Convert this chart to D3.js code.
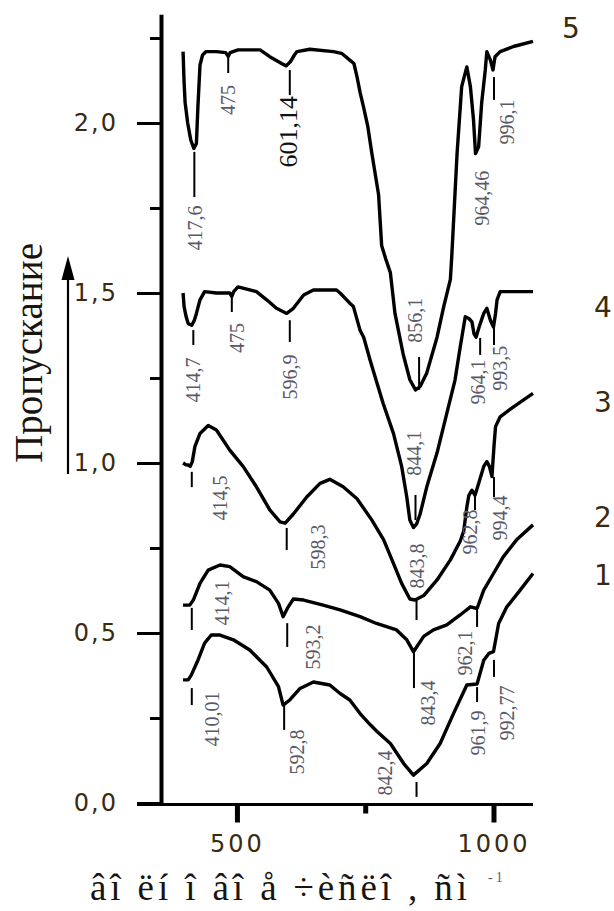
<!DOCTYPE html>
<html><head><meta charset="utf-8">
<script src="https://cdn.jsdelivr.net/npm/d3@7"></script>
<style>body{margin:0;background:#fff}svg{display:block}</style>
</head><body>
<svg id="chart" width="614" height="911"></svg>
<script>
// ---- data (wavenumber, cm-1 ; transmittance, offset curves) ----
const wn1 = [395,405,411,424,437,450,467,493,525,558,581,590,603,623,649,681,701,720,740,760,772,799,825,844,870,896,922,948,968,981,991,1000,1010,1026,1052,1077];
const tr1 = [0.362,0.362,0.376,0.42,0.47,0.494,0.494,0.48,0.45,0.40,0.342,0.288,0.303,0.337,0.356,0.347,0.322,0.303,0.263,0.23,0.212,0.175,0.116,0.082,0.116,0.175,0.263,0.347,0.35,0.42,0.44,0.445,0.528,0.577,0.626,0.675];

const wn2 = [395,408,415,428,444,467,486,512,538,564,581,590,600,610,630,668,701,740,772,811,831,844,864,883,909,935,955,968,981,1000,1019,1045,1077];
const tr2 = [0.582,0.582,0.597,0.646,0.685,0.70,0.695,0.666,0.651,0.626,0.587,0.548,0.577,0.60,0.597,0.582,0.568,0.548,0.528,0.509,0.48,0.445,0.49,0.509,0.524,0.553,0.577,0.572,0.626,0.675,0.724,0.774,0.818];

const wn3 = [395,400,405,409,413,418,428,444,460,486,512,538,564,584,594,610,636,662,681,707,734,763,786,805,821,837,847,864,890,916,935,942,948,952,958,964,971,981,987,992,997,1001,1004,1013,1039,1077];
const tr3 = [1.00,0.995,0.994,0.99,1.004,1.048,1.087,1.11,1.097,1.038,0.99,0.93,0.862,0.827,0.823,0.85,0.90,0.94,0.952,0.93,0.895,0.832,0.774,0.705,0.646,0.60,0.597,0.61,0.656,0.715,0.77,0.80,0.87,0.905,0.92,0.905,0.94,0.99,1.004,0.99,0.96,1.05,1.107,1.136,1.165,1.205];

const wn4 = [395,397,401,405,412,417,421,428,437,460,486,490,494,502,538,558,577,597,610,630,649,694,701,720,727,740,747,760,766,785,805,821,831,837,844,850,857,870,890,909,925,935,945,952,958,962,966,972,981,987,994,1000,1004,1007,1013,1077];
const tr4 = [1.50,1.46,1.43,1.41,1.405,1.42,1.44,1.48,1.504,1.50,1.50,1.49,1.505,1.518,1.504,1.48,1.455,1.44,1.455,1.494,1.509,1.509,1.50,1.47,1.46,1.39,1.37,1.30,1.27,1.175,1.087,0.99,0.90,0.832,0.81,0.82,0.85,0.93,1.03,1.146,1.244,1.34,1.43,1.425,1.415,1.38,1.37,1.40,1.44,1.455,1.42,1.40,1.44,1.48,1.504,1.504];

const wn5 = [395,397,399,404,410,416,421,424,428,433,440,460,478,483,487,502,545,564,587,596,604,612,617,642,688,704,720,728,734,740,747,755,763,776,782,790,799,808,824,837,848,857,870,890,903,916,919,929,938,948,955,961,965,971,977,984,987,994,999,1003,1013,1039,1077];
const tr5 = [2.21,2.12,2.06,2.00,1.95,1.925,1.94,2.05,2.17,2.20,2.21,2.21,2.207,2.196,2.207,2.215,2.215,2.195,2.175,2.168,2.18,2.20,2.21,2.217,2.21,2.205,2.185,2.175,2.136,2.09,2.045,1.99,1.91,1.79,1.64,1.60,1.56,1.44,1.32,1.245,1.215,1.225,1.265,1.37,1.46,1.54,1.617,1.91,2.107,2.165,2.107,2.01,1.91,1.93,2.06,2.156,2.21,2.185,2.156,2.195,2.21,2.225,2.24];

const curveNames = ["1","2","3","4","5"];
const curveNameT = [0.67,0.84,1.18,1.46,2.28];

const yMajorTicks = [0, 0.5, 1.0, 1.5, 2.0];
const yMinorTicks = [0.25, 0.75, 1.25, 1.75, 2.25];
const xMajorTicks = [500, 1000];
const xMinorTicks = [750];

const yTitle = "Пропускание";
const xTitle = "âî ëí î âî å ÷èñëî , ñì";
const xTitleSup = "-1";

// peak annotations
const peakText = ["417,6","475","601,14","856,1","964,46","996,1",
  "414,7","475","596,9","844,1","964,1","993,5",
  "414,5","598,3","843,8","962,8","994,4",
  "414,1","593,2","843,4","962,1",
  "410,01","592,8","842,4","961,9","992,77"];
const markWn = [417,483,603,855,null,1001,
  415,490,603,848,974,1001,
  412,597,850,964,1001,
  412,598,845,968,
  412,592,850,968,1001];
const markFrom = [1.915,2.206,2.156,1.312,null,2.135,
  1.391,1.494,1.42,0.906,1.368,1.412,
  0.974,0.809,0.597,0.912,0.959,
  0.574,0.529,0.441,0.568,
  0.338,0.288,0.062,0.341,0.421];
const markTo = [1.782,2.147,2.082,1.215,null,2.068,
  1.347,1.444,1.356,0.832,1.318,1.347,
  0.929,0.744,0.538,0.862,0.90,
  0.509,0.459,0.338,0.518,
  0.288,0.215,0.018,0.297,0.371];
const labelWn = [418,483,600,847,977,1026,
  415,500,603,846,970,1013,
  467,658,850,954,1013,
  470,649,873,945,
  451,617,789,970,1026];
const labelT = [1.691,2.068,1.974,1.42,1.779,2.003,
  1.244,1.368,1.253,1.029,1.238,1.279,
  0.897,0.753,0.697,0.797,0.838,
  0.588,0.459,0.294,0.441,
  0.247,0.15,0.088,0.206,0.265];

// ---- drawing ----
const svg = d3.select("#chart");
const x = d3.scaleLinear().domain([352, 1077]).range([161, 533]);
const y = d3.scaleLinear().domain([0, 2.32]).range([803, 14.2]);

const series = [[wn1,tr1],[wn2,tr2],[wn3,tr3],[wn4,tr4],[wn5,tr5]];
const line = d3.line().x(d => x(d[0])).y(d => y(d[1]));

// curves
series.forEach(([w,t]) => {
  svg.append("path")
    .datum(w.map((v,i) => [v, t[i]]))
    .attr("d", line)
    .attr("fill","none").attr("stroke","#000")
    .attr("stroke-width",3.4).attr("stroke-linejoin","round");
});

// Y axis
const fmt = d => d3.format(".1f")(d).replace(".", ",");
const gy = svg.append("g").attr("transform", `translate(${x.range()[0]},0)`)
  .call(d3.axisLeft(y).tickValues(yMajorTicks).tickSize(24).tickSizeOuter(0).tickPadding(19).tickFormat(fmt));
gy.select(".domain").attr("stroke-width",4);
gy.selectAll(".tick line").attr("stroke-width",3);
gy.selectAll(".tick text").attr("font-family","DejaVu Sans").attr("font-size",24)
  .attr("fill","#3a2a10").attr("letter-spacing","2px");
const gy2 = svg.append("g").attr("transform", `translate(${x.range()[0]},0)`)
  .call(d3.axisLeft(y).tickValues(yMinorTicks).tickSize(11).tickSizeOuter(0).tickFormat(""));
gy2.select(".domain").remove();
gy2.selectAll(".tick line").attr("stroke-width",3);

// X axis
svg.append("line").attr("x1", x.range()[0]-24).attr("x2", x.range()[1])
  .attr("y1", y(0)+1.5).attr("y2", y(0)+1.5).attr("stroke","#000").attr("stroke-width",3);
const gx = svg.append("g").attr("transform", `translate(0,${y(0)+1.5})`)
  .call(d3.axisBottom(x).tickValues(xMajorTicks).tickSize(18).tickPadding(12).tickFormat(d3.format("d")));
gx.select(".domain").remove();
gx.selectAll(".tick line").attr("stroke-width",5);
gx.selectAll(".tick text").attr("font-family","DejaVu Sans").attr("font-size",24)
  .attr("fill","#3a2a10").attr("letter-spacing","3px");
const gx2 = svg.append("g").attr("transform", `translate(0,${y(0)+1.5})`)
  .call(d3.axisBottom(x).tickValues(xMinorTicks).tickSize(9).tickFormat(""));
gx2.select(".domain").remove();
gx2.selectAll(".tick line").attr("stroke-width",5);

// peak markers and labels
peakText.forEach((txt,i) => {
  if (markWn[i] !== null) {
    svg.append("line")
      .attr("x1", x(markWn[i])).attr("x2", x(markWn[i]))
      .attr("y1", y(markFrom[i])).attr("y2", y(markTo[i]))
      .attr("stroke","#000").attr("stroke-width",2);
  }
  const big = txt === "601,14";
  const lx = x(labelWn[i]), ly = y(labelT[i]);
  svg.append("text")
    .attr("transform", `translate(${lx},${ly}) rotate(-90)`)
    .attr("text-anchor","middle").attr("dy","0.35em")
    .attr("font-family","Liberation Serif").attr("font-size", big ? 26 : 20)
    .attr("fill", big ? "#111" : "#5a5a66")
    .text(txt);
});

// curve numbers
curveNames.forEach((n,i) => {
  svg.append("text")
    .attr("x", n === "5" ? 571 : 603).attr("y", y(curveNameT[i]))
    .attr("text-anchor","middle").attr("dy","0.36em")
    .attr("font-family","DejaVu Sans").attr("font-size",28).attr("fill","#3a2a10")
    .text(n);
});

// Y title with arrow
svg.append("text")
  .attr("transform","translate(42,353) rotate(-90)")
  .attr("text-anchor","middle")
  .attr("font-family","Liberation Serif").attr("font-size",40).attr("fill","#1a1410")
  .attr("textLength",220).attr("lengthAdjust","spacingAndGlyphs")
  .text(yTitle);
svg.append("line").attr("x1",68).attr("x2",68).attr("y1",474).attr("y2",272)
  .attr("stroke","#000").attr("stroke-width",2.2);
svg.append("path").attr("d","M68,256 L74.5,280 L61.5,280 Z").attr("fill","#000");

// X title
svg.append("text").attr("x",90).attr("y",900)
  .attr("font-family","Liberation Serif").attr("font-size",37).attr("fill","#1a1410")
  .attr("textLength",377).attr("lengthAdjust","spacing")
  .text(xTitle);
svg.append("text").attr("x",488).attr("y",882)
  .attr("font-family","Liberation Serif").attr("font-size",14).attr("fill","#5a5a66")
  .attr("letter-spacing","3px")
  .text(xTitleSup);
</script>
</body></html>
